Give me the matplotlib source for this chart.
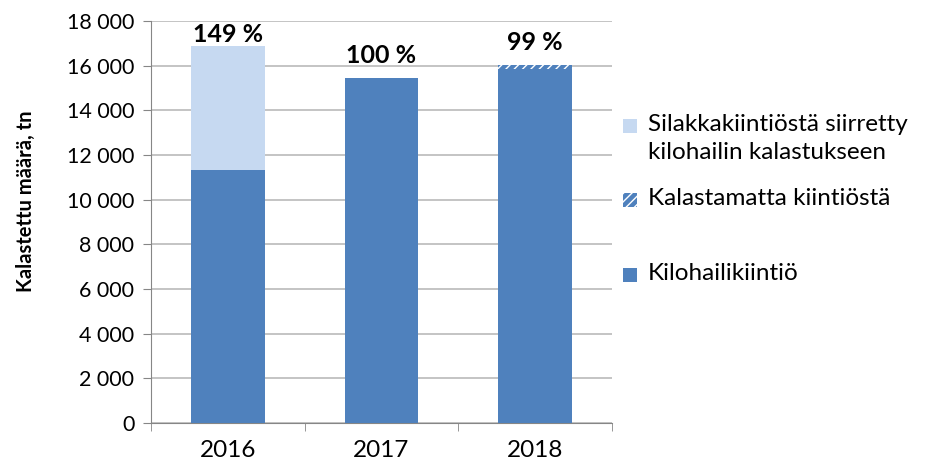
import numpy as np
import matplotlib.pyplot as plt
from matplotlib.patches import Rectangle

plt.rcParams['font.family'] = ['Lato', 'DejaVu Sans']

# ----Data----
years = ["2016", "2017", "2018"]
kilohaili = [11340, 15450, 15870]      # Kilohailikiintiö
unfished = [0, 0, 170]                 # Kalastamatta kiintiöstä
from_herring = [5540, 0, 0]            # Silakkakiintiöstä siirretty kilohailin kalastukseen
pct_labels = ["149 %", "100 %", "99 %"]
label_y = [17060, 16120, 16700]        # where Excel put the % labels
yticks = np.arange(0, 18001, 2000)
legend_labels = ["Silakkakiintiöstä siirretty\nkilohailin kalastukseen",
                 "Kalastamatta kiintiöstä",
                 "Kilohailikiintiö"]

dark = "#4F81BD"
light = "#C6D9F1"
grid = "#BFBFBF"
spine = "#868686"

W, H = 925, 468
fig = plt.figure(figsize=(W / 100, H / 100), dpi=100)
ax = fig.add_axes([151 / W, 1 - 423 / H, (612 - 151) / W, (423 - 21) / H])

x = np.arange(len(years))
w = 0.48
base = np.array(kilohaili)
ax.bar(x, kilohaili, w, color=dark, zorder=3)
ax.bar(x, unfished, w, bottom=base, color=dark, edgecolor="white",
       hatch="////", linewidth=0, zorder=3)
ax.bar(x, from_herring, w, bottom=base + np.array(unfished), color=light, zorder=3)

for xi, yl, lab in zip(x, label_y, pct_labels):
    ax.text(xi, yl, lab, ha="center", va="baseline", fontsize=18, fontweight="bold")

ax.set_ylim(0, 18000)
ax.set_xlim(-0.5, 2.5)
ax.set_yticks(yticks)
ax.set_yticklabels([f"{v:,}".replace(",", " ") for v in yticks], fontsize=15.5)
ax.set_xticks(x)
ax.set_xticklabels(years, fontsize=17.5)
ax.tick_params(axis="x", length=0, pad=12)
ax.set_xticks([-0.5, 0.5, 1.5, 2.5], minor=True)
ax.tick_params(axis="x", which="minor", length=6, color=spine, direction="out")
ax.tick_params(axis="y", length=6, color=spine, pad=6)
ax.yaxis.grid(True, color=grid, linewidth=1.3, zorder=0)
for s in ["top", "right"]:
    ax.spines[s].set_visible(False)
for s in ["left", "bottom"]:
    ax.spines[s].set_color(spine)
ax.set_ylabel("Kalastettu määrä, tn", fontsize=14.5, fontweight="bold")
ax.yaxis.set_label_coords((36 - 151) / 461, (423 - 201) / 402)

# ----Legend (drawn by hand to mimic Excel spacing)----
leg_y = [126, 200, 275]
leg_style = [dict(facecolor=light),
             dict(facecolor=dark, edgecolor="white", hatch="////", linewidth=0),
             dict(facecolor=dark)]
sq = 14
for yy, lab, st in zip(leg_y, legend_labels, leg_style):
    fig.add_artist(Rectangle((623 / W, 1 - (yy + sq / 2) / H), sq / W, sq / H,
                             transform=fig.transFigure, **st))
    fig.text(648 / W, 1 - (yy - 12) / H, lab, ha="left", va="top",
             fontsize=17.5, linespacing=1.42)

fig.savefig("out.png", dpi=100)
